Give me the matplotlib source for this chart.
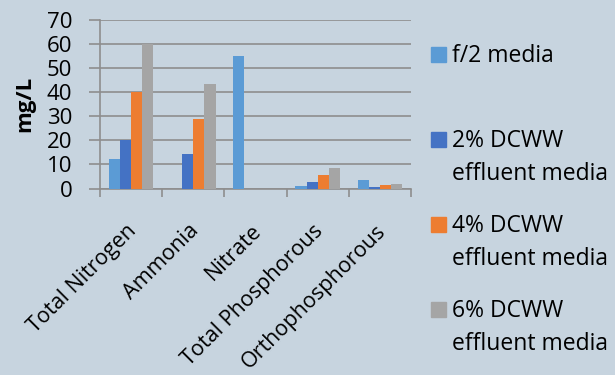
import matplotlib.pyplot as plt
import matplotlib.patches as mpatches
import matplotlib.transforms as mtransforms
import numpy as np

categories = ["Total Nitrogen", "Ammonia", "Nitrate", "Total Phosphorous", "Orthophosphorous"]
series_labels = ["f/2 media", "2% DCWW\neffluent media", "4% DCWW\neffluent media", "6% DCWW\neffluent media"]
f2_media = [12.3, 0, 55, 1.0, 3.5]
dcww_2 = [20, 14.5, 0, 2.8, 0.5]
dcww_4 = [40, 29, 0, 5.6, 1.3]
dcww_6 = [60, 43.5, 0, 8.4, 2.0]
y_ticks = [0, 10, 20, 30, 40, 50, 60, 70]

colors = ["#5B9BD5", "#4472C4", "#ED7D31", "#A5A5A5"]
bg = "#C7D4DF"
grid_c = "#8E8E8E"
font = "Open Sans"

fig = plt.figure(figsize=(6.15, 3.75), dpi=100, facecolor=bg)
W, H = 615, 375
ax = fig.add_axes([100 / W, 1 - 188.5 / H, 311 / W, 168.5 / H], facecolor=bg)

x = np.arange(len(categories))
bw = 0.18
all_series = [f2_media, dcww_2, dcww_4, dcww_6]
for i, (vals, c) in enumerate(zip(all_series, colors)):
    ax.bar(x + (i - 1.5) * bw, vals, width=bw, color=c, zorder=3)

ax.set_xlim(-0.5, len(categories) - 0.5)
ax.set_ylim(0, 70)
ax.set_yticks(y_ticks)
ax.set_yticklabels([str(v) for v in y_ticks], fontsize=16, family=font)
ax.yaxis.grid(True, color=grid_c, linewidth=1.2, zorder=0)
ax.tick_params(axis="y", length=8, color=grid_c, width=1.2, pad=12)

ax.set_xticks(np.arange(len(categories) + 1) - 0.5)
ax.set_xticklabels([])
ax.tick_params(axis="x", length=6, color=grid_c, width=1.2)
ax.set_xticks(x, minor=True)
ax.set_xticklabels(categories, minor=True, rotation=45, ha="right",
                   rotation_mode="anchor", fontsize=15.5, family=font)
ax.tick_params(axis="x", which="minor", length=0, pad=23)
shift = mtransforms.ScaledTranslation(-5 / 100, 0, fig.dpi_scale_trans)
for lab in ax.get_xticklabels(minor=True):
    lab.set_transform(lab.get_transform() + shift)

for s in ["top", "right"]:
    ax.spines[s].set_visible(False)
ax.spines["left"].set_color(grid_c)
ax.spines["left"].set_linewidth(1.2)
ax.spines["bottom"].set_color(grid_c)
ax.spines["bottom"].set_linewidth(1.2)
ax.spines["left"].set_zorder(1)

ax.set_ylabel("mg/L", fontsize=16, fontweight="bold", family=font, labelpad=8)

# legend drawn as patches and text on the right, one text per line
baselines = [62, 147, 232, 317]
line_step = 33
for lbl, c, base in zip(series_labels, colors, baselines):
    fig.patches.append(mpatches.Rectangle((431 / W, 1 - base / H), 14.7 / W, 14.7 / H,
                                          transform=fig.transFigure, color=c))
    for k, line in enumerate(lbl.split("\n")):
        fig.text(452 / W, 1 - (base + k * line_step) / H, line, fontsize=16.5,
                 family=font, va="baseline", ha="left")

fig.savefig("out.png", dpi=100, facecolor=bg)
